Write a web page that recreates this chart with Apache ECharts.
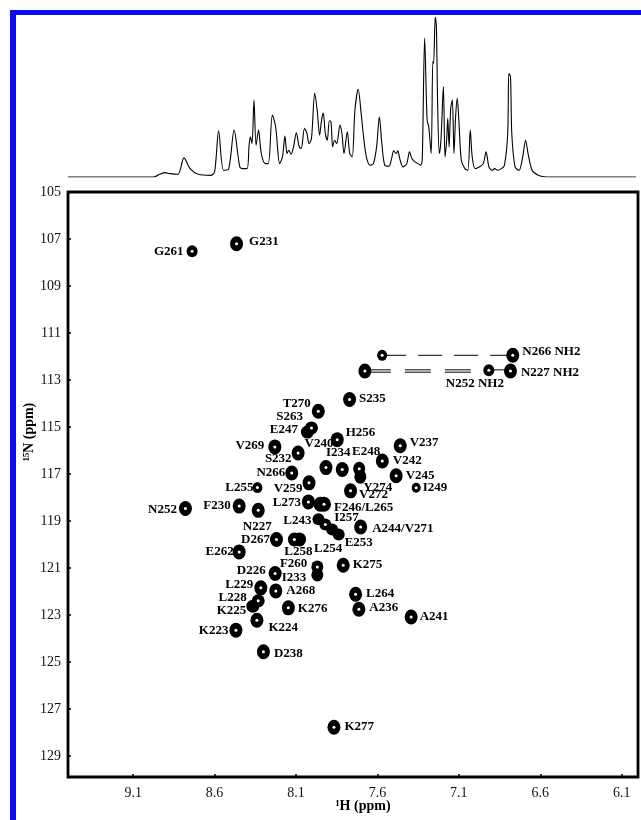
<!DOCTYPE html>
<html><head><meta charset="utf-8">
<script src="https://cdn.jsdelivr.net/npm/echarts@6/dist/echarts.min.js"></script>
<style>html,body{margin:0;padding:0;background:#fff}#c{width:641px;height:820px}</style>
</head><body><div id="c"></div>
<script>
// ---- tick labels ----
const hTicks = [9.1, 8.6, 8.1, 7.6, 7.1, 6.6, 6.1];
const nTicks = [105, 107, 109, 111, 113, 115, 117, 119, 121, 123, 125, 127, 129];

// ---- 1D projection (ppm, intensity) ----
const specPpm = [9.500,8.975,8.938,8.905,8.875,8.825,8.788,8.750,8.700,8.625,8.600,8.575,8.545,8.513,8.480,8.445,8.425,8.400,8.388,8.380,8.370,8.358,8.345,8.330,8.313,8.288,8.270,8.245,8.225,8.200,8.183,8.168,8.155,8.145,8.130,8.115,8.098,8.080,8.068,8.048,8.033,8.020,8.005,7.985,7.970,7.955,7.943,7.933,7.920,7.908,7.895,7.885,7.875,7.863,7.850,7.830,7.818,7.805,7.785,7.770,7.755,7.738,7.718,7.700,7.685,7.668,7.645,7.625,7.605,7.588,7.573,7.555,7.530,7.513,7.500,7.485,7.475,7.463,7.443,7.420,7.403,7.388,7.370,7.350,7.335,7.325,7.310,7.295,7.285,7.270,7.260,7.255,7.245,7.238,7.230,7.220,7.210,7.195,7.185,7.175,7.168,7.160,7.150,7.140,7.130,7.120,7.110,7.100,7.085,7.063,7.045,7.030,7.018,7.000,6.975,6.950,6.933,6.915,6.895,6.880,6.863,6.838,6.820,6.800,6.793,6.783,6.775,6.755,6.730,6.708,6.690,6.675,6.650,6.613,6.563,6.013];
const specInt = [0,0,8,13,10,8,57,25,8,5,15,138,20,25,140,30,25,25,95,120,100,230,95,140,70,40,40,185,150,40,60,122,70,80,68,90,132,90,85,145,130,100,115,250,200,125,170,192,130,110,168,165,90,110,100,155,130,70,135,70,60,200,262,190,120,60,35,40,90,180,100,35,32,55,78,70,78,55,30,40,75,55,45,40,35,50,415,170,150,70,345,340,478,450,210,70,110,270,60,110,175,90,205,230,70,180,235,170,50,25,20,140,60,25,30,40,75,30,20,25,20,25,35,130,310,300,130,30,20,60,110,70,20,5,0,0];

// ---- 2D cross peaks ----
const peakLabels = ['G261','G231','','N266 NH2','','N252 NH2','N227 NH2','S235','T270','S263','E247','H256','V269','V237','S232','V240','I234','E248','Y274','V242','N266','V245','V272','I249','L255','V259','F230','N252','L273','','F246/L265','N227','L243','I257','L254','E253','A244/V271','D267','L258','','E262','F260','I233','K275','D226','L229','A268','L264','L228','K225','K276','A236','A241','K224','K223','D238','K277'];
const peakH = [8.738,8.465,7.571,6.769,7.677,6.916,6.783,7.771,7.963,8.005,8.030,7.847,8.230,7.460,8.087,7.916,7.816,7.712,7.705,7.570,8.126,7.485,7.765,7.362,8.337,8.020,8.449,8.779,8.024,7.950,7.928,8.332,7.962,7.920,7.878,7.838,7.703,8.220,8.110,8.078,8.449,7.969,7.969,7.810,8.228,8.316,8.224,7.734,8.332,8.365,8.147,7.714,7.393,8.340,8.469,8.300,7.867];
const peakN = [107.52,107.20,111.95,111.95,112.62,112.59,112.62,113.83,114.33,115.04,115.22,115.54,115.85,115.80,116.11,116.73,116.81,116.78,117.12,116.45,116.96,117.08,117.72,117.59,117.58,117.38,118.37,118.47,118.19,118.29,118.29,118.55,118.93,119.15,119.37,119.58,119.26,119.79,119.79,119.79,120.32,120.96,121.30,120.89,121.24,121.85,121.98,122.12,122.40,122.63,122.70,122.76,123.09,123.23,123.65,124.57,127.78];

// side-chain NH2 connections
const n266LineH = [7.571, 6.769], n266LineN = [111.95, 111.95];
const n227LineH = [7.677, 6.783], n227LineN = [112.57, 112.57];
const n252LineH = [7.677, 6.916], n252LineN = [112.67, 112.67];

// ---- label placement & symbol sizes (style, not data) ----
const labelLayout = {
 'G261':['left',-1,0],'G231':['right',4,-2],'N266 NH2':['right',1,-4],'N227 NH2':['right',2,2],'N252 NH2':['bottom',-14,-1],
 'S235':['right',1,-1],'T270':['left',1,-8],'S263':['left',0,-11],'E247':['left',-1,-2],'H256':['right',0,-7],
 'V269':['left',-2,-1],'V237':['right',1,-3],'S232':['left',2,6],'V240':['top',-7,-8],'I234':['top',-4,-1],'E248':['top',7,-2],
 'Y274':['right',-5,11],'V242':['right',2,0],'N266':['left',2,0],'V245':['right',1,0],'V272':['right',0,4],'I249':['right',0,0],
 'L255':['left',3,0],'V259':['left',2,6],'F230':['left',0,0],'N252':['left',0,1],'L273':['left',1,1],'F246/L265':['right',1,3],
 'N227':['bottom',-1,0],'L243':['left',1,1],'I257':['right',1,-7],'L254':['bottom',-4,5],'E253':['right',-2,8],'A244/V271':['right',3,2],
 'D267':['left',2,0],'L258':['bottom',4,-3],'E262':['left',3,0],'F260':['left',-2,-3],'I233':['left',-3,3],'K275':['right',1,-1],
 'D226':['left',-1,-3],'L229':['left',1,-3],'A268':['right',2,0],'L264':['right',2,-1],'L228':['left',-3,-3],'K225':['left',2,4],
 'K276':['right',1,1],'A236':['right',2,-2],'A241':['right',0,0],'K224':['right',3,7],'K223':['left',1,0],'D238':['right',2,2],'K277':['right',2,-1]
};
const sizeOverride = {0:[11,12],2:[10,11],5:[11,12],23:[9,10],24:[10,11],
  9:[13,13],10:[13,13],17:[12,14],18:[12,14],29:[14,15],30:[14,15],32:[12,12],33:[12,12],34:[12,12],35:[12,12],
  38:[13,14],39:[13,14],41:[12,13],42:[12,13],48:[13,13],49:[13,13]};
const noCenter = [10, 18, 29, 32, 34, 35, 39, 42, 49];

const serif = '"Liberation Serif","Times New Roman",serif';

const peakData = peakH.map((h, i) => {
  const txt = peakLabels[i];
  const lay = labelLayout[txt];
  const item = { value: [h, peakN[i]], symbolSize: sizeOverride[i] || [13, 15] };
  if (txt && lay) {
    item.label = { show: true, position: lay[0], distance: 2, offset: [lay[1], lay[2]], formatter: txt };
  }
  return item;
});
const centerData = peakH.map((h, i) => [h, peakN[i]]).filter((d, i) => noCenter.indexOf(i) < 0);
const specData = specPpm.map((p, i) => [p, specInt[i]]);

const chart = echarts.init(document.getElementById('c'), null, { renderer: 'canvas' });
chart.setOption({
  animation: false,
  backgroundColor: '#fff',
  grid: [
    { left: 68, top: 192, width: 570, height: 585, show: true, borderColor: '#000', borderWidth: 2.8, backgroundColor: 'transparent' },
    { left: 68, top: 17, width: 570, height: 160, show: false }
  ],
  xAxis: [
    { type: 'value', gridIndex: 0, min: 6.0, max: 9.5, inverse: true,
      axisLine: { show: false }, splitLine: { show: false },
      axisTick: { show: true, inside: true, length: 3, lineStyle: { color: '#000', width: 1.5 }, customValues: hTicks },
      axisLabel: { color: '#111', fontFamily: serif, fontSize: 14, margin: 9, customValues: hTicks, formatter: v => v.toFixed(1) } },
    { type: 'value', gridIndex: 1, min: 6.0, max: 9.5, inverse: true, show: false }
  ],
  yAxis: [
    { type: 'value', gridIndex: 0, min: 105, max: 129.9, inverse: true,
      axisLine: { show: false }, splitLine: { show: false },
      axisTick: { show: true, inside: true, length: 3, lineStyle: { color: '#000', width: 1.5 }, customValues: nTicks },
      axisLabel: { color: '#111', fontFamily: serif, fontSize: 14, margin: 7, customValues: nTicks } },
    { type: 'value', gridIndex: 1, min: 0, max: 478, show: false }
  ],
  graphic: [
    { type: 'rect', shape: { x: 10, y: 10, width: 6, height: 810 }, style: { fill: '#0a0af5' }, z: 100 },
    { type: 'rect', shape: { x: 10, y: 10, width: 631, height: 5 }, style: { fill: '#0a0af5' }, z: 100 },
    { type: 'text', x: 363, y: 806, style: { text: '\u00B9H (ppm)', font: 'bold 14px ' + serif, fill: '#000', textAlign: 'center', textVerticalAlign: 'middle' } },
    { type: 'text', x: 29, y: 432, rotation: Math.PI / 2, style: { text: '\u00B9\u2075N (ppm)', font: 'bold 14px ' + serif, fill: '#000', textAlign: 'center', textVerticalAlign: 'middle' } }
  ],
  series: [
    { type: 'line', xAxisIndex: 1, yAxisIndex: 1, data: specData, symbol: 'none', smooth: 0.3,
      lineStyle: { color: '#000', width: 1.1 }, z: 2 },
    { type: 'line', xAxisIndex: 0, yAxisIndex: 0, data: n266LineH.map((h, i) => [h, n266LineN[i]]), symbol: 'none',
      lineStyle: { color: '#000', width: 1, type: [24, 12] }, z: 2 },
    { type: 'line', xAxisIndex: 0, yAxisIndex: 0, data: n227LineH.map((h, i) => [h, n227LineN[i]]), symbol: 'none',
      lineStyle: { color: '#000', width: 1, type: [26, 14] }, z: 2 },
    { type: 'line', xAxisIndex: 0, yAxisIndex: 0, data: n252LineH.map((h, i) => [h, n252LineN[i]]), symbol: 'none',
      lineStyle: { color: '#000', width: 1, type: [26, 14] }, z: 2 },
    { type: 'scatter', xAxisIndex: 0, yAxisIndex: 0, data: peakData, symbol: 'circle',
      itemStyle: { color: '#000', opacity: 1 }, z: 5,
      label: { show: false, color: '#000', fontFamily: serif, fontWeight: 'bold', fontSize: 13 },
      emphasis: { disabled: true } },
    { type: 'scatter', xAxisIndex: 0, yAxisIndex: 0, data: centerData, symbol: 'circle', symbolSize: 3,
      itemStyle: { color: '#fff', opacity: 1 }, z: 6, silent: true, emphasis: { disabled: true } }
  ]
});
</script></body></html>
